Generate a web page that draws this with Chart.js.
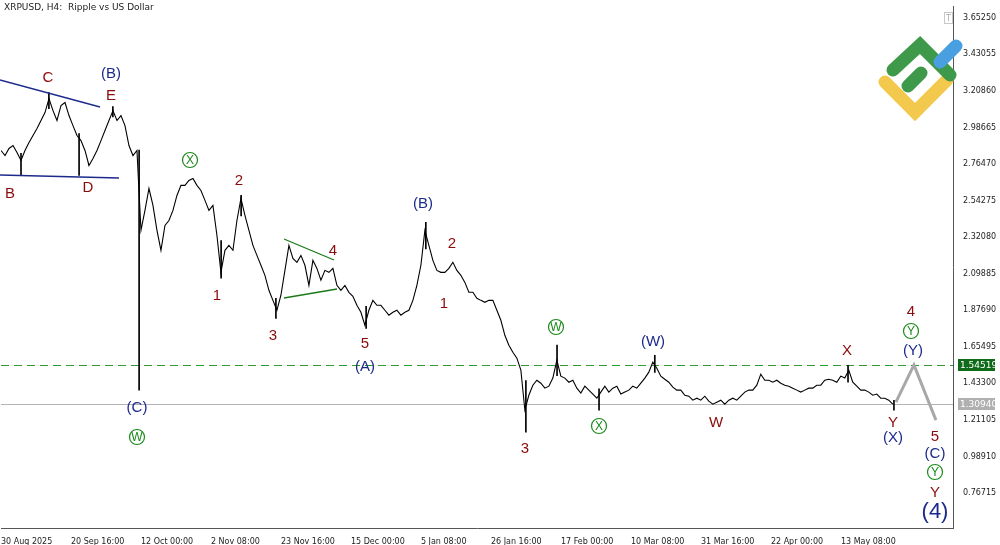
<!DOCTYPE html>
<html><head><meta charset="utf-8">
<script src="https://cdn.jsdelivr.net/npm/chart.js@4/dist/chart.umd.min.js"></script>
<style>html,body{margin:0;padding:0;background:#fff}#wrap{width:1000px;height:545px}</style>
</head><body><div id="wrap"><canvas id="c"></canvas></div>
<script>
// XRPUSD H4 - closes sampled every ~1.22 days from 30 Aug 2025
const STEP_DAYS = 1.219;
const closes = [
 2.847,2.816,2.859,2.877,2.835,2.786,2.847,2.895,2.938,2.980,
 3.029,3.077,3.162,3.089,3.029,3.119,3.138,3.059,2.998,2.938,
 2.907,2.847,2.756,2.798,2.847,2.907,2.968,3.029,3.089,3.029,
 3.059,2.998,2.877,2.816,2.847,2.362,2.483,2.616,2.514,2.362,
 2.241,2.392,2.422,2.483,2.574,2.635,2.635,2.665,2.677,2.635,
 2.604,2.544,2.483,2.514,2.331,2.107,2.241,2.271,2.241,2.422,
 2.556,2.453,2.362,2.271,2.210,2.150,2.089,1.998,1.937,1.877,
 1.968,2.119,2.271,2.192,2.168,2.210,2.150,2.028,2.180,2.131,
 2.059,2.119,2.107,2.131,2.028,1.998,2.028,1.986,1.962,1.907,
 1.865,1.786,1.877,1.937,1.907,1.907,1.877,1.847,1.865,1.877,
 1.847,1.865,1.877,1.937,2.028,2.150,2.362,2.271,2.180,2.119,
 2.107,2.107,2.131,2.168,2.119,2.089,2.046,1.986,1.986,1.950,
 1.937,1.925,1.937,1.937,1.877,1.816,1.725,1.665,1.622,1.586,
 1.513,1.271,1.361,1.422,1.452,1.434,1.404,1.416,1.465,1.574,
 1.477,1.465,1.440,1.452,1.404,1.374,1.416,1.392,1.368,1.343,
 1.380,1.416,1.380,1.404,1.416,1.368,1.380,1.392,1.416,1.404,
 1.434,1.465,1.501,1.562,1.525,1.477,1.458,1.440,1.410,1.392,
 1.392,1.361,1.355,1.331,1.343,1.331,1.355,1.325,1.307,1.319,
 1.331,1.307,1.331,1.343,1.331,1.355,1.380,1.392,1.392,1.422,
 1.489,1.452,1.452,1.440,1.452,1.434,1.422,1.416,1.404,1.392,
 1.380,1.392,1.404,1.404,1.422,1.422,1.452,1.458,1.452,1.440,
 1.477,1.465,1.513,1.440,1.416,1.392,1.392,1.380,1.361,1.368,
 1.343,1.343,1.331,1.307
];
// spikes: [day, high, low]
const wicks = [
 [6.1,2.83,2.695],[14.6,3.198,3.10],[23.8,2.95,2.695],[34.1,3.113,3.05],
 [42.1,2.85,1.392],[67.1,2.30,2.071],[73.2,2.574,2.45],[83.8,1.95,1.828],
 [111.3,1.90,1.767],[129.5,2.411,2.25],[160.0,1.45,1.137],[169.5,1.665,1.48],
 [182.3,1.40,1.271],[199.3,1.604,1.50],[258.2,1.543,1.44],[272.2,1.33,1.271]
];
const projection = [[272.8,1.319],[278.3,1.545],[285.0,1.210]];
const priceTicks = [3.65250,3.43055,3.20860,2.98665,2.76470,2.54275,2.32080,2.09885,1.87690,1.65495,1.43300,1.21105,0.98910,0.76715];
const dateLabels = ["30 Aug 2025","20 Sep 16:00","12 Oct 00:00","2 Nov 08:00","23 Nov 16:00","15 Dec 00:00","5 Jan 08:00","26 Jan 16:00","17 Feb 00:00","10 Mar 08:00","31 Mar 16:00","22 Apr 00:00","13 May 08:00"];
const DATE_STEP = 21.336;
const LEVEL_GREEN = 1.54519, LEVEL_GREY = 1.30940;

const MAROON = "#8b0a0a", NAVY = "#1c2a8c", GREEN = "#1a8a1a";
// wave labels, page pixels
const labels = [
 ["C",48,78,MAROON],["(B)",111,74,NAVY],["E",111,96,MAROON],["B",10,194,MAROON],["D",88,188,MAROON],
 ["(C)",137,408,NAVY],["2",239,181,MAROON],["1",217,296,MAROON],["3",273,336,MAROON],["4",333,251,MAROON],
 ["5",365,344,MAROON],["(A)",365,367,NAVY],["(B)",423,204,NAVY],["2",452,244,MAROON],["1",444,304,MAROON],
 ["(W)",653,342,NAVY],["3",525,449,MAROON],["W",716,423,MAROON],["X",847,351,MAROON],["4",911,312,MAROON],
 ["(Y)",913,351,NAVY],["Y",893,423,MAROON],["(X)",893,438,NAVY],["5",935,437,MAROON],["(C)",935,454,NAVY],
 ["Y",935,493,MAROON]
];
const circled = [["X",190,160],["W",137,437],["W",556,327],["X",599,426],["Y",911,331],["Y",935,472]];
const trendLines = [
 [0,80,100,107,"#1c2a8c"],[0,175,119,178,"#1c2a8c"],
 [284,239,334,260,"#1a7a1a"],[284,298,337,289,"#1a7a1a"]
];

const overlay = {
  id: "overlay",
  beforeDatasetsDraw(chart) {
    const {ctx, chartArea: a, scales: {y}} = chart;
    ctx.save();
    const yg = y.getPixelForValue(LEVEL_GREY);
    ctx.strokeStyle = "#b4b4b4"; ctx.lineWidth = 1;
    ctx.beginPath(); ctx.moveTo(a.left, Math.round(yg)+0.5); ctx.lineTo(a.right, Math.round(yg)+0.5); ctx.stroke();
    const ygr = y.getPixelForValue(LEVEL_GREEN);
    ctx.strokeStyle = "#2f9a2f"; ctx.setLineDash([8,5]);
    ctx.beginPath(); ctx.moveTo(a.left, Math.round(ygr)+0.5); ctx.lineTo(a.right, Math.round(ygr)+0.5); ctx.stroke();
    ctx.restore();
  },
  afterDatasetsDraw(chart) {
    const {ctx, chartArea: a, scales: {y}} = chart;
    ctx.save();
    ctx.lineWidth = 1.3;
    trendLines.forEach(([x1,y1,x2,y2,c]) => {
      ctx.strokeStyle = c; ctx.beginPath();
      ctx.moveTo(x1, y1); ctx.lineTo(x2, y2); ctx.stroke();
    });
    ctx.textAlign = "center"; ctx.textBaseline = "middle";
    ctx.font = "15px 'Liberation Sans', Arial";
    labels.forEach(([t,x,yy,c]) => { ctx.fillStyle = c; ctx.fillText(t, x, yy); });
    ctx.font = "22px 'Liberation Sans', Arial"; ctx.fillStyle = NAVY;
    ctx.fillText("(4)", 935, 512);
    circled.forEach(([t,x,yy]) => {
      ctx.strokeStyle = GREEN; ctx.lineWidth = 1.2;
      ctx.beginPath(); ctx.arc(x, yy, 7.5, 0, Math.PI*2); ctx.stroke();
      ctx.fillStyle = GREEN; ctx.font = "12px 'Liberation Sans', Arial";
      ctx.fillText(t, x, yy+0.5);
    });
    // header
    ctx.textAlign = "left"; ctx.fillStyle = "#222"; ctx.font = "9px 'DejaVu Sans'";
    ctx.fillText("XRPUSD, H4:  Ripple vs US Dollar", 4, 8);
    // small T box
    ctx.strokeStyle = "#c8c8c8"; ctx.lineWidth = 1; ctx.strokeRect(a.right-8.5, 12.5, 8, 11);
    ctx.fillStyle = "#aaa"; ctx.font = "8px 'DejaVu Sans'"; ctx.fillText("T", a.right-7, 18.5);
    // logo
    ctx.lineCap = "round"; ctx.lineWidth = 13;
    ctx.strokeStyle = "#f2c94c";
    ctx.beginPath(); ctx.moveTo(885,82); ctx.lineTo(915,112); ctx.lineTo(947,80); ctx.stroke();
    ctx.strokeStyle = "#3e9a4a";
    ctx.beginPath(); ctx.moveTo(893,70); ctx.lineTo(920,45); ctx.lineTo(950,75); ctx.stroke();
    ctx.beginPath(); ctx.moveTo(908,86); ctx.lineTo(921,73); ctx.stroke();
    ctx.strokeStyle = "#4a9fe0";
    ctx.beginPath(); ctx.moveTo(940,62); ctx.lineTo(956,46); ctx.stroke();
    ctx.restore();
    // price tags on axis
    ctx.save();
    [[LEVEL_GREEN,"#0f6b1a","#fff"],[LEVEL_GREY,"#b0b0b0","#fff"]].forEach(([v,bg,fg]) => {
      const py = Math.round(y.getPixelForValue(v));
      ctx.fillStyle = bg; ctx.fillRect(a.right+5, py-6, 37, 12);
      ctx.fillStyle = fg; ctx.font = "9px 'DejaVu Sans'"; ctx.textBaseline = "middle"; ctx.textAlign = "left";
      ctx.fillText(v.toFixed(5), a.right+7, py+0.5);
    });
    ctx.restore();
  }
};

const lineData = closes.map((c,i) => ({x: i*STEP_DAYS, y: c}));
new Chart(document.getElementById("c"), {
  data: {
    datasets: [
      {type: "bar", data: wicks.map(w => ({x: w[0], y: [w[2], w[1]]})), backgroundColor: "#000", barThickness: 1, grouped: false},
      {type: "line", data: lineData, borderColor: "#000", borderWidth: 1.1, pointRadius: 0, tension: 0},
      {type: "line", data: projection.map(p => ({x: p[0], y: p[1]})), borderColor: "#a8a8a8", borderWidth: 3, pointRadius: 0}
    ]
  },
  options: {
    animation: false, responsive: true, maintainAspectRatio: false,
    layout: {padding: {left: 1, top: 0, right: 0, bottom: 0}},
    plugins: {legend: {display: false}, tooltip: {enabled: false}},
    scales: {
      x: {type: "linear", offset: false, min: 0, max: 290.2, grid: {display: false, offset: false}, border: {color: "#555"},
        afterBuildTicks: s => { s.ticks = dateLabels.map((_, i) => ({value: i*DATE_STEP})); },
        afterFit: s => { s.height = 17; },
        ticks: {autoSkip: false, maxRotation: 0, align: "start", padding: 1, color: "#222", font: {size: 8, family: "DejaVu Sans"},
          callback: (v, i) => dateLabels[i]}},
      y: {position: "right", min: 0.555, max: 3.7192, grid: {display: false}, border: {color: "#555"},
        afterBuildTicks: s => { s.ticks = priceTicks.map(v => ({value: v})); },
        afterFit: s => { s.width = 47; },
        ticks: {autoSkip: false, padding: 2, color: "#222", font: {size: 8, family: "DejaVu Sans"}, callback: v => v.toFixed(5)}}
    }
  },
  plugins: [overlay]
});
</script></body></html>
